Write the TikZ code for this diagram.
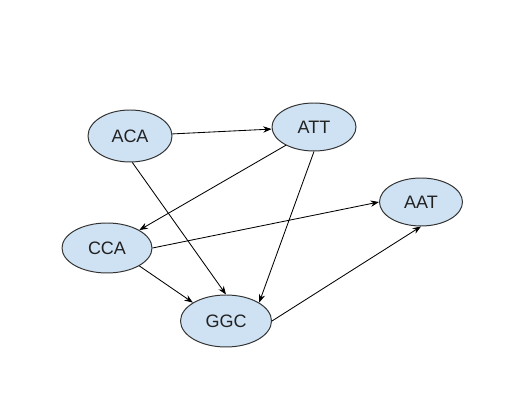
\documentclass[tikz,border=0pt]{standalone}
\usepackage{fontspec}
\setmainfont{Liberation Sans}
\usetikzlibrary{arrows.meta, shapes.geometric}
\definecolor{nodefill}{HTML}{CFE2F3}
\definecolor{nodeline}{HTML}{333333}
\definecolor{nodetext}{HTML}{222222}

\begin{document}
\begin{tikzpicture}[
    seq/.style={ellipse, draw=nodeline, fill=nodefill, line width=0.7pt, inner sep=0pt,
        text=nodetext, font=\fontsize{12.8}{15}\selectfont},
    link/.style={-{Stealth[length=6pt, width=4.5pt]}, line width=0.6pt, black}
    ]
        \useasboundingbox[fill=white] (0,0) rectangle (12.7,10.25);

        \node[seq, minimum width=2.1cm, minimum height=1.3cm] (ACA) at (3.25,6.85) {ACA};
        \node[seq, minimum width=2.1cm, minimum height=1.2cm] (ATT) at (7.85,7.075) {ATT};
        \node[seq, minimum width=2.075cm, minimum height=1.2cm] (AAT) at (10.525,5.2) {AAT};
        \node[seq, minimum width=2.25cm, minimum height=1.25cm] (CCA) at (2.675,4.05) {CCA};
        \node[seq, minimum width=2.275cm, minimum height=1.3cm] (GGC) at (5.65,2.225) {GGC};

        \draw[link] (ACA) -- (ATT);
        \draw[link] (ACA.-85) -- (GGC.north);
        \draw[link] (ATT.213) -- (CCA.29);
        \draw[link] (ATT.south) -- (GGC.29);
        \draw[link] (CCA.east) -- (AAT.west);
        \draw[link] (CCA.-29) -- (GGC.151);
        \draw[link] (GGC.east) -- (AAT.south);
    \end{tikzpicture}
\end{document}
